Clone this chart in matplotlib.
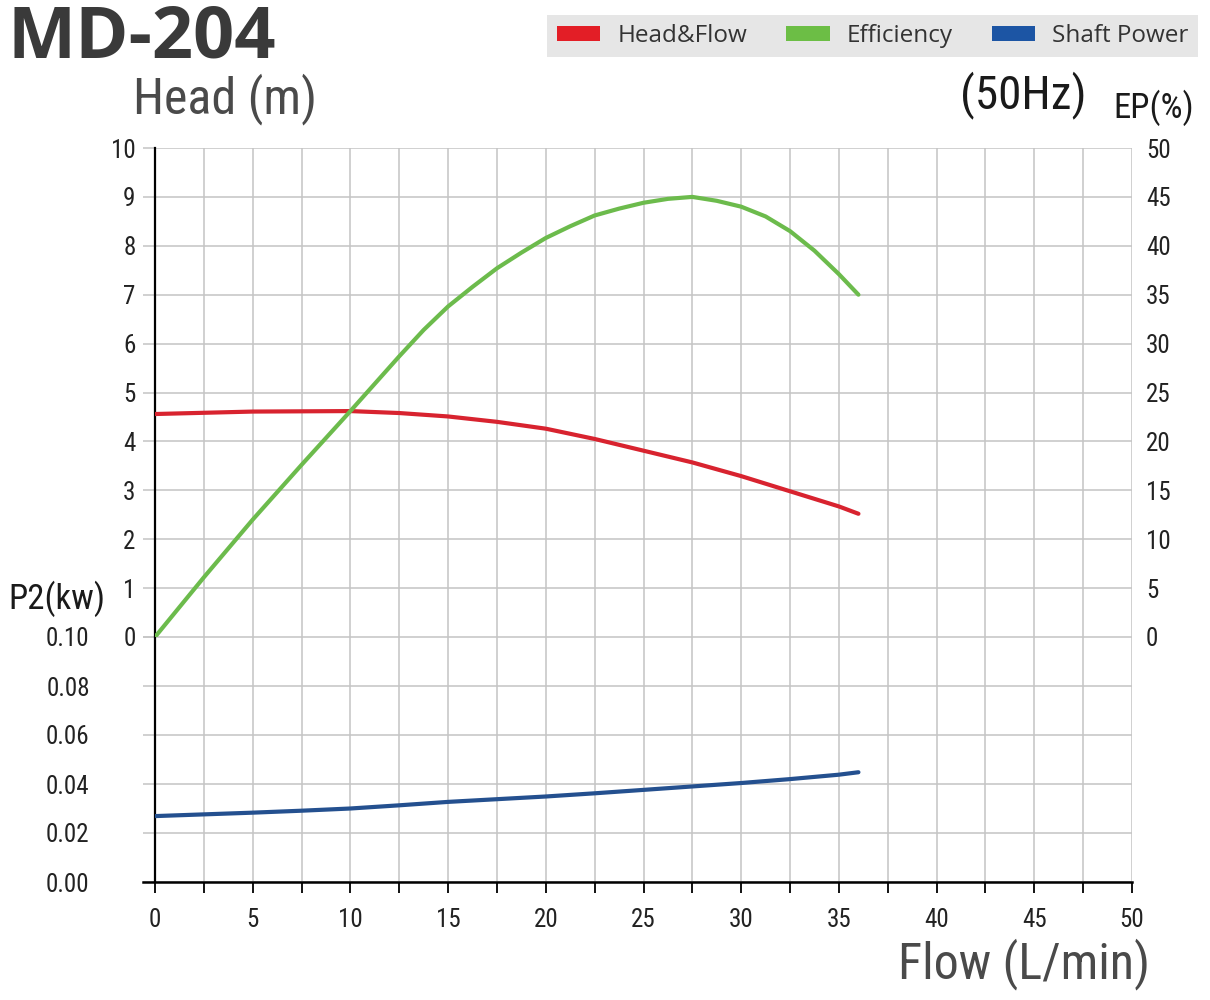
import matplotlib
matplotlib.use("Agg")
import matplotlib.pyplot as plt
import matplotlib.ticker as ticker
from matplotlib.patches import Patch

# Werte
flow_head = [0, 5, 10, 12.5, 15, 17.5, 20, 22.5, 25, 27.5, 30, 32.5, 35, 36]
head = [4.56, 4.61, 4.62, 4.58, 4.51, 4.40, 4.26, 4.05, 3.81, 3.57, 3.29, 2.98, 2.67, 2.52]

flow_eff = [0, 2.5, 5, 7.5, 10, 12.5, 13.75, 15, 16.25, 17.5, 18.75, 20, 21.25, 22.5,
            23.75, 25, 26.25, 27.5, 28.75, 30, 31.25, 32.5, 33.75, 35, 36]
efficiency = [0, 6.1, 12.0, 17.6, 23.1, 28.7, 31.4, 33.8, 35.8, 37.7, 39.3, 40.8, 42.0, 43.1,
              43.8, 44.4, 44.8, 45.0, 44.6, 44.0, 43.0, 41.5, 39.5, 37.1, 35.0]

flow_power = [0, 2.5, 5, 7.5, 10, 12.5, 15, 17.5, 20, 22.5, 25, 27.5, 30, 32.5, 35, 36]
power = [0.0269, 0.0276, 0.0283, 0.0291, 0.0300, 0.0313, 0.0327, 0.0338, 0.0349,
         0.0362, 0.0376, 0.0390, 0.0404, 0.0420, 0.0438, 0.0448]

head_ticks = list(range(0, 11))
eff_ticks = list(range(0, 51, 5))
power_ticks = [0.00, 0.02, 0.04, 0.06, 0.08, 0.10]
flow_ticks = list(range(0, 51, 5))

legend_labels = ["Head&Flow", "Efficiency", "Shaft Power"]

RED = "#d8232f"
GREEN = "#6cbb4c"
BLUE = "#24508f"
GRID = "#c4c4c4"
NARROW = ["Roboto Condensed", "DejaVu Sans"]

plt.rcParams["font.family"] = NARROW

fig = plt.figure(figsize=(12.1, 10), dpi=100)

L = 155 / 1210
W = (1132 - 155) / 1210
ax_h = fig.add_axes([L, 1 - 637 / 1000, W, (637 - 148) / 1000])
ax_p = fig.add_axes([L, 1 - 882 / 1000, W, (882 - 637) / 1000], sharex=ax_h)
ax_e = ax_h.twinx()

for ax in (ax_h, ax_p):
    ax.set_xlim(0, 50)
    ax.xaxis.set_major_locator(ticker.MultipleLocator(5))
    ax.xaxis.set_minor_locator(ticker.MultipleLocator(2.5))
    ax.grid(True, which="both", axis="x", color=GRID, linewidth=1.1)
    ax.grid(True, which="major", axis="y", color=GRID, linewidth=1.1)
    ax.set_axisbelow(True)
    ax.spines["top"].set_visible(False)
    ax.spines["right"].set_visible(False)
    ax.spines["left"].set_color("black")
    ax.spines["left"].set_linewidth(1.6)
    ax.tick_params(axis="y", direction="out", length=9, width=1.1, color=GRID,
                   labelsize=18, labelcolor="#222222")

line_kw = dict(linewidth=3, solid_capstyle="round", solid_joinstyle="round")

# Kopf (Förderhöhe)
ax_h.set_ylim(0, 10)
ax_h.set_yticks(head_ticks)
ax_h.spines["bottom"].set_visible(False)
ax_h.tick_params(axis="x", which="both", bottom=False, labelbottom=False)
ax_h.tick_params(axis="y", pad=5)
ax_h.plot(flow_head, head, color=RED, zorder=3, **line_kw)

# Wirkungsgrad rechts
ax_e.set_ylim(0, 50)
ax_e.set_yticks(eff_ticks)
for s in ax_e.spines.values():
    s.set_visible(False)
ax_e.tick_params(axis="y", length=0, pad=10, labelsize=18, labelcolor="#222222")
ax_e.plot(flow_eff, efficiency, color=GREEN, zorder=4, **line_kw)

# Leistung unten
ax_p.set_ylim(0, 0.10)
ax_p.set_yticks(power_ticks)
ax_p.set_yticklabels(["%.2f" % t for t in power_ticks])
ax_p.tick_params(axis="y", pad=38)
ax_p.spines["bottom"].set_color("black")
ax_p.spines["bottom"].set_linewidth(1.8)
ax_p.spines["bottom"].set_bounds(-0.6, 50)
ax_p.set_xticks(flow_ticks)
ax_p.tick_params(axis="x", which="both", direction="out", length=8, width=1.3,
                 color="black", pad=11, labelsize=18, labelcolor="#222222")
ax_p.plot(flow_power, power, color=BLUE, zorder=3, **line_kw)

# Beschriftungen
fig.text(7 / 1210, 1 - 58 / 1000, "MD-204", fontsize=52, fontweight="bold",
         family=["Open Sans", "DejaVu Sans"], color="#3a3a3a", va="baseline")
fig.text(133 / 1210, 1 - 113 / 1000, "Head (m)", fontsize=36,
         color="#4a4a4a", va="baseline")
fig.text(960 / 1210, 1 - 108 / 1000, "(50Hz)", fontsize=34,
         color="#1a1a1a", va="baseline")
fig.text(1113 / 1210, 1 - 118 / 1000, "EP(%)", fontsize=25,
         color="#1a1a1a", va="baseline")
fig.text(8 / 1210, 1 - 609 / 1000, "P2(kw)", fontsize=25,
         color="#1a1a1a", va="baseline")
fig.text(1150 / 1210, 1 - 978 / 1000, "Flow (L/min)", fontsize=36,
         color="#4a4a4a", va="baseline", ha="right")

# Legende
handles = [Patch(facecolor=c, edgecolor="none") for c in ("#e31e26", "#6cbe45", "#1c55a4")]
leg = fig.legend(handles, legend_labels, ncol=3, loc="upper right",
                 bbox_to_anchor=(1198 / 1210, 1 - 15 / 1000), frameon=True,
                 facecolor="#e6e6e6", edgecolor="none", fancybox=False, framealpha=1,
                 handlelength=1.8, handleheight=0.55, handletextpad=0.7,
                 columnspacing=1.6, borderpad=0.38, borderaxespad=0,
                 prop={"family": ["Open Sans", "DejaVu Sans"], "size": 17.5})
for t in leg.get_texts():
    t.set_color("#333333")

fig.savefig("out.png", dpi=100)
